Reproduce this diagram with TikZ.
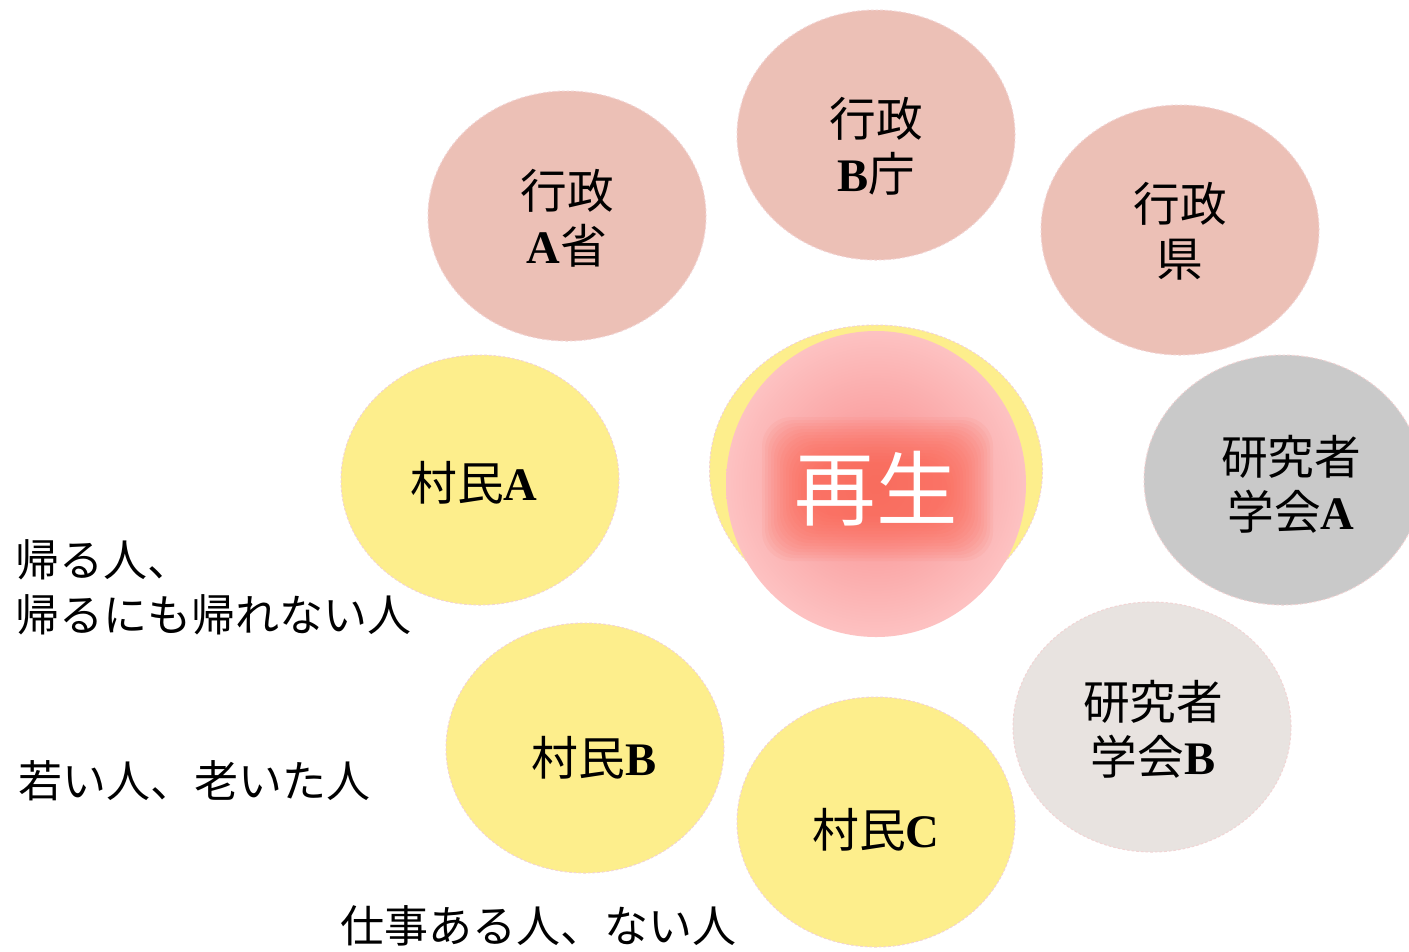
\documentclass[tikz,border=0pt]{standalone}
\usepackage{fontspec}
\setmainfont{Liberation Serif}
\newfontfamily\jp{Noto Sans CJK JP}
\usetikzlibrary{shapes.geometric}
\definecolor{gyo}{RGB}{236,192,182}
\definecolor{son}{RGB}{253,238,140}
\definecolor{kenA}{RGB}{201,201,201}
\definecolor{kenB}{RGB}{232,227,224}
\definecolor{rim}{RGB}{242,212,212}
\definecolor{glowc}{RGB}{250,100,80}
\definecolor{pinkin}{RGB}{248,140,140}
\definecolor{pinkout}{RGB}{253,194,194}
\newcommand{\lat}[1]{{\rmfamily\bfseries #1}}
\begin{document}
\begin{tikzpicture}[x=0.75pt,y=-0.75pt,
  bubble/.style={ellipse, minimum width=208.5pt, minimum height=187.5pt, inner sep=0pt,
    draw=rim, dash pattern=on 2pt off 1.5pt, line width=0.75pt},
  txt/.style={inner sep=0pt, align=center, font=\jp\fontsize{35}{41}\selectfont},
  note/.style={anchor=west, inner sep=0pt, font=\jp\fontsize{33}{40}\selectfont}]
\useasboundingbox (0,0) rectangle (1409,951);
\clip (0,0) rectangle (1409,951);
\fill[white] (0,0) rectangle (1409,951);
% outer bubbles
\node[bubble, fill=gyo] (gA) at (567,216) {};
\node[bubble, fill=gyo] (gB) at (876,135) {};
\node[bubble, fill=gyo] (gK) at (1180,230) {};
\node[bubble, fill=kenA] (kA) at (1283,480) {};
\node[bubble, fill=kenB] (kB) at (1152,727) {};
\node[bubble, fill=son] (sC) at (876,822) {};
\node[bubble, fill=son] (sB) at (585,748) {};
\node[bubble, fill=son] (sA) at (480,480) {};
\node[txt] (gAt) at (567,218) {行政\\\lat{A}省};
\node[txt] (gBt) at (876,146) {行政\\\lat{B}庁};
\node[txt] (gKt) at (1180,231) {行政\\県};
\node[txt] (kAt) at (1291,484) {研究者\\学会\lat{A}};
\node[txt] (kBt) at (1153,729) {研究者\\学会\lat{B}};
\node[txt] (sCt) at (876,830) {村民\lat{C}};
\node[txt] (sBt) at (594,758) {村民\lat{B}};
\node[txt] (sAt) at (474,483) {村民\lat{A}};
% centre
\node[ellipse, fill=son, draw=rim, dash pattern=on 2pt off 1.5pt, line width=0.75pt,
  minimum width=249.75pt, minimum height=217.5pt, inner sep=0pt] (ring) at (876,470) {};
\node[ellipse, shading=radial, inner color=pinkin, outer color=pinkout,
  minimum width=225pt, minimum height=229.5pt, inner sep=0pt] (core) at (876,484) {};
\foreach \e in {-12,-9,...,33}
  \fill[glowc, opacity=0.07, rounded corners=22pt] (795-\e,450-\e) rectangle (960+\e,528+\e);
\node[text=white, inner sep=0pt, font=\jp\fontsize{61}{61}\selectfont] (saisei) at (876,489) {再生};
% notes
\node[note] (n1) at (15,560) {帰る人、};
\node[note] (n2) at (15,615) {帰るにも帰れない人};
\node[note] (n3) at (18,781) {若い人、老いた人};
\node[note] (n4) at (340,926) {仕事ある人、ない人};
\end{tikzpicture}
\end{document}
